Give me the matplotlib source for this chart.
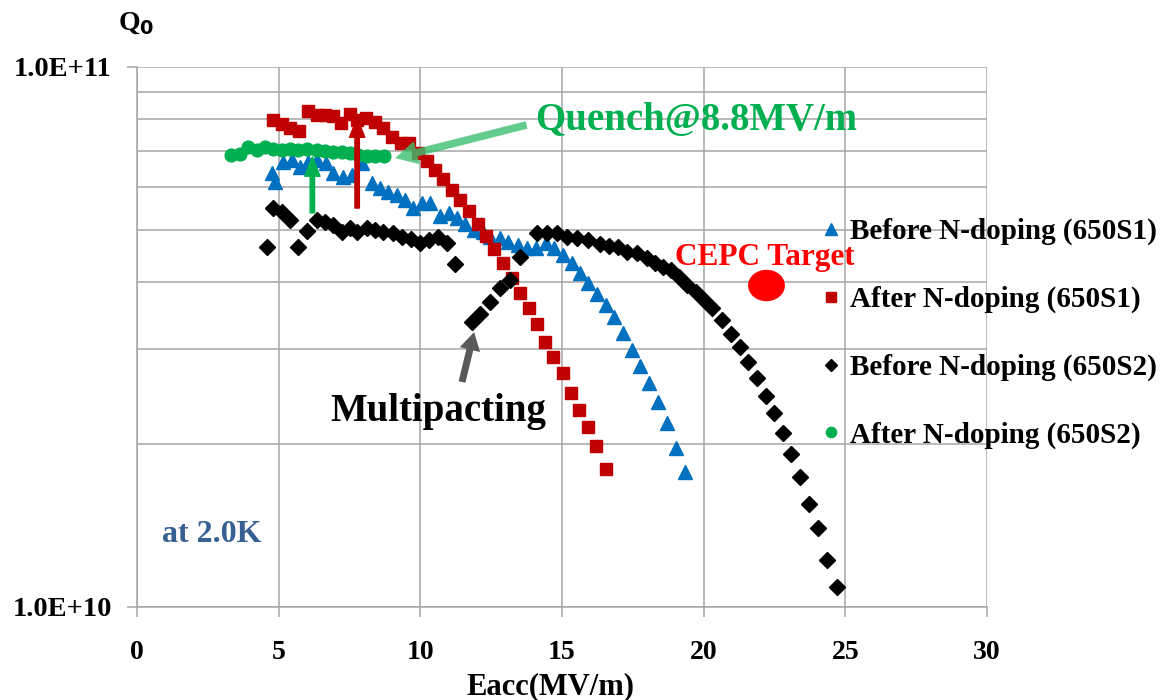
import matplotlib
matplotlib.use("Agg")
import matplotlib.pyplot as plt
from matplotlib.ticker import FixedLocator, NullFormatter, FixedFormatter
from matplotlib.path import Path
from matplotlib.markers import MarkerStyle
import numpy as np

# ---------------- data ----------------
blue_x = [4.78, 4.88, 5.16, 5.48, 5.76, 6.05, 6.36, 6.68, 6.93, 7.28, 7.60, 7.95, 8.30, 8.58, 8.87,
          9.18, 9.47, 9.75, 10.06, 10.35, 10.70, 11.01, 11.30, 11.58, 11.90, 12.21, 12.46, 12.81,
          13.09, 13.45, 13.76, 14.08, 14.43, 14.71, 15.03, 15.35, 15.63, 15.91, 16.23, 16.55,
          16.83, 17.15, 17.47, 17.75, 18.07, 18.38, 18.70, 19.02, 19.33]
blue_q = [6.37, 6.13, 6.67, 6.73, 6.53, 6.67, 6.73, 6.64, 6.37, 6.25, 6.31, 6.64, 6.10, 5.97, 5.87,
          5.80, 5.67, 5.48, 5.60, 5.60, 5.30, 5.37, 5.25, 5.12, 4.99, 4.95, 4.84, 4.82, 4.74, 4.68,
          4.62, 4.62, 4.72, 4.62, 4.49, 4.34, 4.16, 3.98, 3.80, 3.62, 3.44, 3.22, 2.99, 2.79, 2.60,
          2.40, 2.19, 1.97, 1.78]

red_x = [4.81, 5.13, 5.41, 5.73, 6.05, 6.36, 6.64, 6.93, 7.21, 7.53, 7.78, 8.09, 8.41, 8.69, 9.01,
         9.32, 9.61, 9.92, 10.24, 10.52, 10.81, 11.13, 11.41, 11.72, 12.04, 12.32, 12.60, 12.92,
         13.24, 13.52, 13.83, 14.12, 14.40, 14.68, 15.04, 15.32, 15.60, 15.91, 16.20, 16.55]
red_q = [7.98, 7.84, 7.70, 7.61, 8.29, 8.15, 8.15, 8.12, 7.87, 8.18, 7.98, 8.05, 7.91, 7.70, 7.42,
         7.23, 7.23, 6.93, 6.70, 6.44, 6.21, 5.92, 5.67, 5.41, 5.12, 4.86, 4.60, 4.34, 4.06, 3.81,
         3.58, 3.34, 3.10, 2.90, 2.71, 2.49, 2.32, 2.15, 1.99, 1.80]

black_x = [4.60, 4.81, 5.13, 5.41, 5.69, 6.01, 6.36, 6.64, 6.93, 7.24, 7.53, 7.78, 8.12, 8.41, 8.69,
           9.04, 9.36, 9.68, 9.99, 10.31, 10.63, 10.95, 11.23, 11.83, 12.11, 12.46, 12.81, 13.17,
           13.52, 14.12, 14.47, 14.82, 15.18, 15.53, 15.92, 16.34, 16.66, 16.97, 17.29, 17.64,
           17.99, 18.28, 18.56, 18.84, 19.12, 19.40, 19.72, 20.00, 20.28, 20.64, 20.95, 21.27,
           21.55, 21.87, 22.19, 22.47, 22.79, 23.07, 23.39, 23.70, 24.02, 24.37, 24.69]
black_q = [4.64, 5.48, 5.39, 5.21, 4.64, 4.97, 5.21, 5.17, 5.10, 4.95, 5.03, 4.95, 5.03, 4.99, 4.95,
           4.93, 4.84, 4.80, 4.72, 4.78, 4.84, 4.72, 4.31, 3.37, 3.49, 3.67, 3.90, 4.04, 4.45, 4.93,
           4.93, 4.93, 4.84, 4.82, 4.78, 4.70, 4.66, 4.64, 4.54, 4.52, 4.43, 4.34, 4.26, 4.21, 4.09,
           3.95, 3.83, 3.70, 3.58, 3.40, 3.20, 3.03, 2.84, 2.66, 2.46, 2.29, 2.10, 1.92, 1.74, 1.55,
           1.40, 1.22, 1.09]

green_x = [3.30, 3.65, 3.93, 4.25, 4.53, 4.81, 5.13, 5.41, 5.69, 6.01, 6.36, 6.64, 6.93, 7.24, 7.53,
           7.81, 8.12, 8.41, 8.72]
green_q = [6.87, 6.90, 7.11, 7.02, 7.11, 7.05, 7.02, 7.05, 7.02, 7.05, 7.02, 6.99, 6.96, 6.96, 6.93,
           6.87, 6.84, 6.84, 6.84]

target_x = [22.2]
target_q = [3.95]

series_labels = ["Before N-doping (650S1)", "After N-doping (650S1)",
                 "Before N-doping (650S2)", "After N-doping (650S2)"]
x_ticks = [0, 5, 10, 15, 20, 25, 30]
y_ticks = [1e10, 1e11]
y_tick_labels = ["1.0E+10", "1.0E+11"]
SCALE = 1e10

# ---------------- style ----------------
SERIF = ["Liberation Serif", "DejaVu Serif"]
plt.rcParams["font.family"] = SERIF
plt.rcParams["font.weight"] = "bold"

BLUE = "#0070C0"
RED = "#C00000"
GREEN = "#00B050"
GRID = "#A6A6A6"

fig = plt.figure(figsize=(11.62, 7.0), dpi=100)
W, H = 1162, 700
L, R, T, B = 137, 987, 67, 607
ax = fig.add_axes([L / W, 1 - B / H, (R - L) / W, (B - T) / H])

def sc(v):
    return [q * SCALE for q in v]

ax.set_yscale("log")
ax.set_xlim(0, 30)
ax.set_ylim(1e10, 1e11)

l1, = ax.plot(blue_x, sc(blue_q), ls="none", marker="^", ms=10.5, color=BLUE, mec=BLUE, zorder=3)
l2, = ax.plot(red_x, sc(red_q), ls="none", marker="s", ms=8.6, color=RED, mec=RED, zorder=4)
l3, = ax.plot(black_x, sc(black_q), ls="none", marker="D", ms=8.2, color="black", mec="black", zorder=5)
l4, = ax.plot(green_x, sc(green_q), ls="none", marker="o", ms=9.2, color=GREEN, mec=GREEN, zorder=6)

# CEPC target (slightly elliptical marker)
t = np.linspace(0, 2 * np.pi, 60)
ell = Path(np.column_stack([1.18 * np.cos(t), np.sin(t)]), closed=True)
ax.plot(target_x, sc(target_q), ls="none", marker=MarkerStyle(ell), ms=25.5, color="#FF0000",
        mec="#FF0000", zorder=7)

# grid / axes
ax.xaxis.set_major_locator(FixedLocator(x_ticks))
ax.yaxis.set_major_locator(FixedLocator(y_ticks))
ax.yaxis.set_major_formatter(FixedFormatter(y_tick_labels))
ax.yaxis.set_minor_locator(FixedLocator([k * 1e10 for k in range(2, 10)]))
ax.yaxis.set_minor_formatter(NullFormatter())
ax.grid(True, which="both", axis="y", color=GRID, lw=1.1, zorder=0)
ax.grid(True, which="major", axis="x", color=GRID, lw=1.1, zorder=0)
ax.set_axisbelow(True)
for s in ["top", "right"]:
    ax.spines[s].set_visible(False)
for s in ["left", "bottom"]:
    ax.spines[s].set_color(GRID)
    ax.spines[s].set_linewidth(1.1)
ax.tick_params(axis="both", which="major", direction="out", length=7, width=1.1, color=GRID)
ax.tick_params(axis="x", labelsize=20, pad=17)
ax.tick_params(axis="y", labelsize=20.5, pad=11)
ax.tick_params(axis="y", which="minor", length=0)
for lab in ax.get_xticklabels() + ax.get_yticklabels():
    lab.set_fontweight("bold")
    lab.set_family(SERIF)

# axis titles
fig.text(550 / W, 1 - 687 / H, "Eacc(MV/m)", ha="center", va="center", fontsize=22,
         fontweight="bold", family=SERIF)
fig.text(118 / W, 1 - 24 / H, r"Q$_\mathbf{0}$", ha="left", va="center", fontsize=20,
         fontweight="bold", family=SERIF)

# annotations
ax.annotate("", xy=(7.77, 8.05e10), xytext=(7.77, 5.48e10),
            arrowprops=dict(width=3.2, headwidth=11, headlength=14, color=RED, shrink=0),
            zorder=8)
ax.annotate("", xy=(6.19, 6.82e10), xytext=(6.19, 5.37e10),
            arrowprops=dict(width=3.2, headwidth=11, headlength=14, color=GREEN, shrink=0),
            zorder=8)
ax.annotate("", xy=(9.11, 6.78e10), xytext=(13.75, 7.81e10),
            arrowprops=dict(width=5.5, headwidth=17, headlength=16, color="#3CC070", alpha=0.8,
                            shrink=0, lw=0),
            zorder=9)
ax.annotate("", xy=(11.9, 3.23e10), xytext=(11.47, 2.61e10),
            arrowprops=dict(width=5, headwidth=15, headlength=13, color="#595959", shrink=0, lw=0),
            zorder=8)

fig.text(535 / W, 1 - 120 / H, "Quench@8.8MV/m", ha="left", va="center", fontsize=28,
         fontweight="bold", color=GREEN, family=SERIF)
fig.text(330 / W, 1 - 411 / H, "Multipacting", ha="left", va="center", fontsize=28,
         fontweight="bold", color="black", family=SERIF)
fig.text(162 / W, 1 - 534 / H, "at 2.0K", ha="left", va="center", fontsize=23,
         fontweight="bold", color="#376092", family=SERIF)
fig.text(675 / W, 1 - 258 / H, "CEPC Target", ha="left", va="center", fontsize=22.5,
         fontweight="bold", color="#FF0000", family=SERIF)

# legend
leg = ax.legend([l1, l2, l3, l4], series_labels, loc="upper left",
                bbox_to_anchor=(822 / W, 1 - 218 / H), bbox_transform=fig.transFigure,
                frameon=False, handlelength=0.6, handletextpad=0.35,
                labelspacing=1.39, markerscale=0.8, borderpad=0, borderaxespad=0,
                prop=dict(family=SERIF, weight="bold", size=21))

fig.savefig("out.png", dpi=100)
